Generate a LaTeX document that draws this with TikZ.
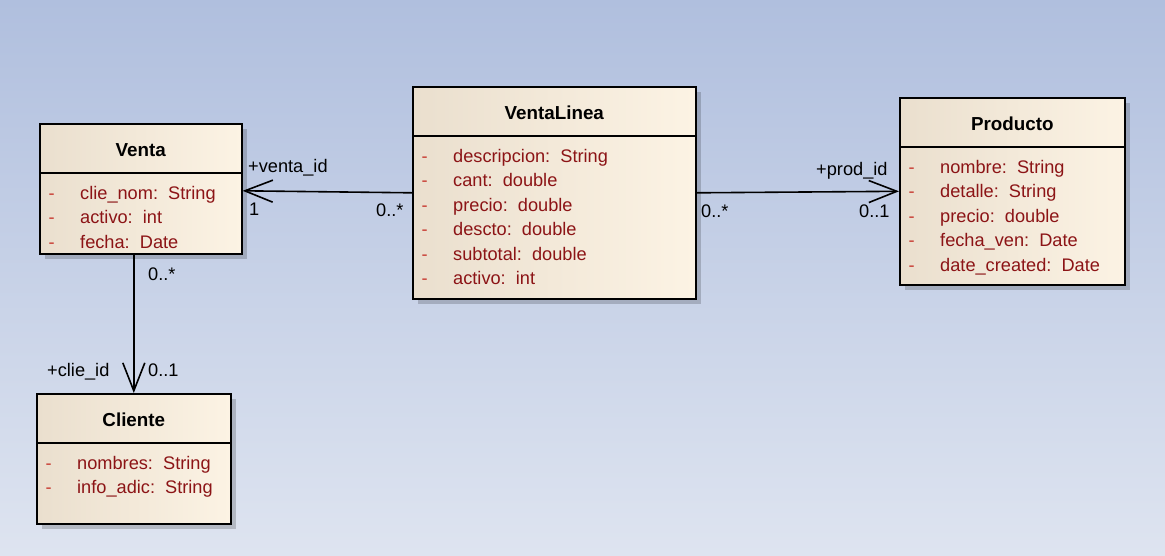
\documentclass[tikz,border=0pt]{standalone}
\usepackage{fontspec}
\setmainfont{Liberation Sans}
\usetikzlibrary{arrows.meta,positioning,shadows}

\definecolor{bgtop}{RGB}{176,191,222}
\definecolor{bgbot}{RGB}{222,228,240}
\definecolor{boxl}{RGB}{234,223,206}
\definecolor{boxr}{RGB}{252,243,228}
\definecolor{attr}{RGB}{140,20,22}
\definecolor{dashc}{RGB}{200,60,50}

\newcommand{\attrline}[2]{\strut\makebox[31.5pt][l]{\color{dashc}-}\textcolor{attr}{#1:~~#2}}

\begin{document}
\begin{tikzpicture}[x=1pt,y=-1pt,>={Straight Barb[length=28pt,width=22pt]},
    every node/.style={font=\fontsize{18.2}{24.5}\selectfont},
    clase/.style={draw,line width=1.6pt,anchor=north west,inner sep=0pt,
        left color=boxl,right color=boxr,
        drop shadow={shadow xshift=5pt,shadow yshift=-5pt,fill=black,opacity=.18}},
    titulo/.style={anchor=base,font=\fontsize{18.8}{24.5}\selectfont\bfseries},
    attrs/.style={anchor=north west,align=left,inner sep=0pt},
    sep/.style={line width=1.6pt},
    assoc/.style={->,line width=1.6pt},
    rol/.style={anchor=base west,inner sep=0pt}]

    \shade[top color=bgtop,bottom color=bgbot] (0,0) rectangle (1165,555);
    \useasboundingbox (0,0) rectangle (1165,555);

    % clases
    \node   [clase,minimum width=202pt,minimum height=130pt]   (venta) at (39,123) {};
    \node   [clase,minimum width=283pt,minimum height=212pt]   (linea) at (412,86) {};
    \node   [clase,minimum width=225pt,minimum height=187pt]   (prod)  at (899,97) {};
    \node   [clase,minimum width=194pt,minimum height=130pt]   (clie)  at (36,393) {};

    \node   [titulo]    (ventat) at ([yshift=-33pt]venta.north) {Venta};
    \node   [titulo]    (lineat) at ([yshift=-33pt]linea.north) {VentaLinea};
    \node   [titulo]    (prodt)  at ([yshift=-33pt]prod.north)  {Producto};
    \node   [titulo]    (cliet)  at ([yshift=-33pt]clie.north)  {Cliente};

    \draw   [sep] ([yshift=-50pt]venta.north west) -- ([yshift=-50pt]venta.north east);
    \draw   [sep] ([yshift=-50pt]linea.north west) -- ([yshift=-50pt]linea.north east);
    \draw   [sep] ([yshift=-50pt]prod.north west)  -- ([yshift=-50pt]prod.north east);
    \draw   [sep] ([yshift=-50pt]clie.north west)  -- ([yshift=-50pt]clie.north east);

    \node   [attrs] (ventaa) at ([xshift=9.5pt,yshift=-58.8pt]venta.north west)
        {\attrline{clie\_nom}{String}\\ \attrline{activo}{int}\\ \attrline{fecha}{Date}};
    \node   [attrs] (lineaa) at ([xshift=9.5pt,yshift=-58.8pt]linea.north west)
        {\attrline{descripcion}{String}\\ \attrline{cant}{double}\\ \attrline{precio}{double}\\
         \attrline{descto}{double}\\ \attrline{subtotal}{double}\\ \attrline{activo}{int}};
    \node   [attrs] (proda)  at ([xshift=9.5pt,yshift=-58.8pt]prod.north west)
        {\attrline{nombre}{String}\\ \attrline{detalle}{String}\\ \attrline{precio}{double}\\
         \attrline{fecha\_ven}{Date}\\ \attrline{date\_created}{Date}};
    \node   [attrs] (cliea)  at ([xshift=9.5pt,yshift=-58.8pt]clie.north west)
        {\attrline{nombres}{String}\\ \attrline{info\_adic}{String}};

    % asociaciones
    \draw   [assoc] (linea.west) -- ([yshift=-2pt]venta.east);
    \draw   [assoc] (linea.east) -- (prod.west);
    \draw   [assoc] (venta.south -| clie.north) -- (clie.north);

    \node   [rol]   (r1) at (248,172) {+venta\_id};
    \node   [rol]   (r2) at (249,215) {1};
    \node   [rol]   (r3) at (376,216) {0..*};
    \node   [rol]   (r4) at (816,175) {+prod\_id};
    \node   [rol]   (r5) at (859,217) {0..1};
    \node   [rol]   (r6) at (701,217) {0..*};
    \node   [rol]   (r7) at (148,280) {0..*};
    \node   [rol]   (r8) at (47,376)  {+clie\_id};
    \node   [rol]   (r9) at (148,376) {0..1};
\end{tikzpicture}
\end{document}
